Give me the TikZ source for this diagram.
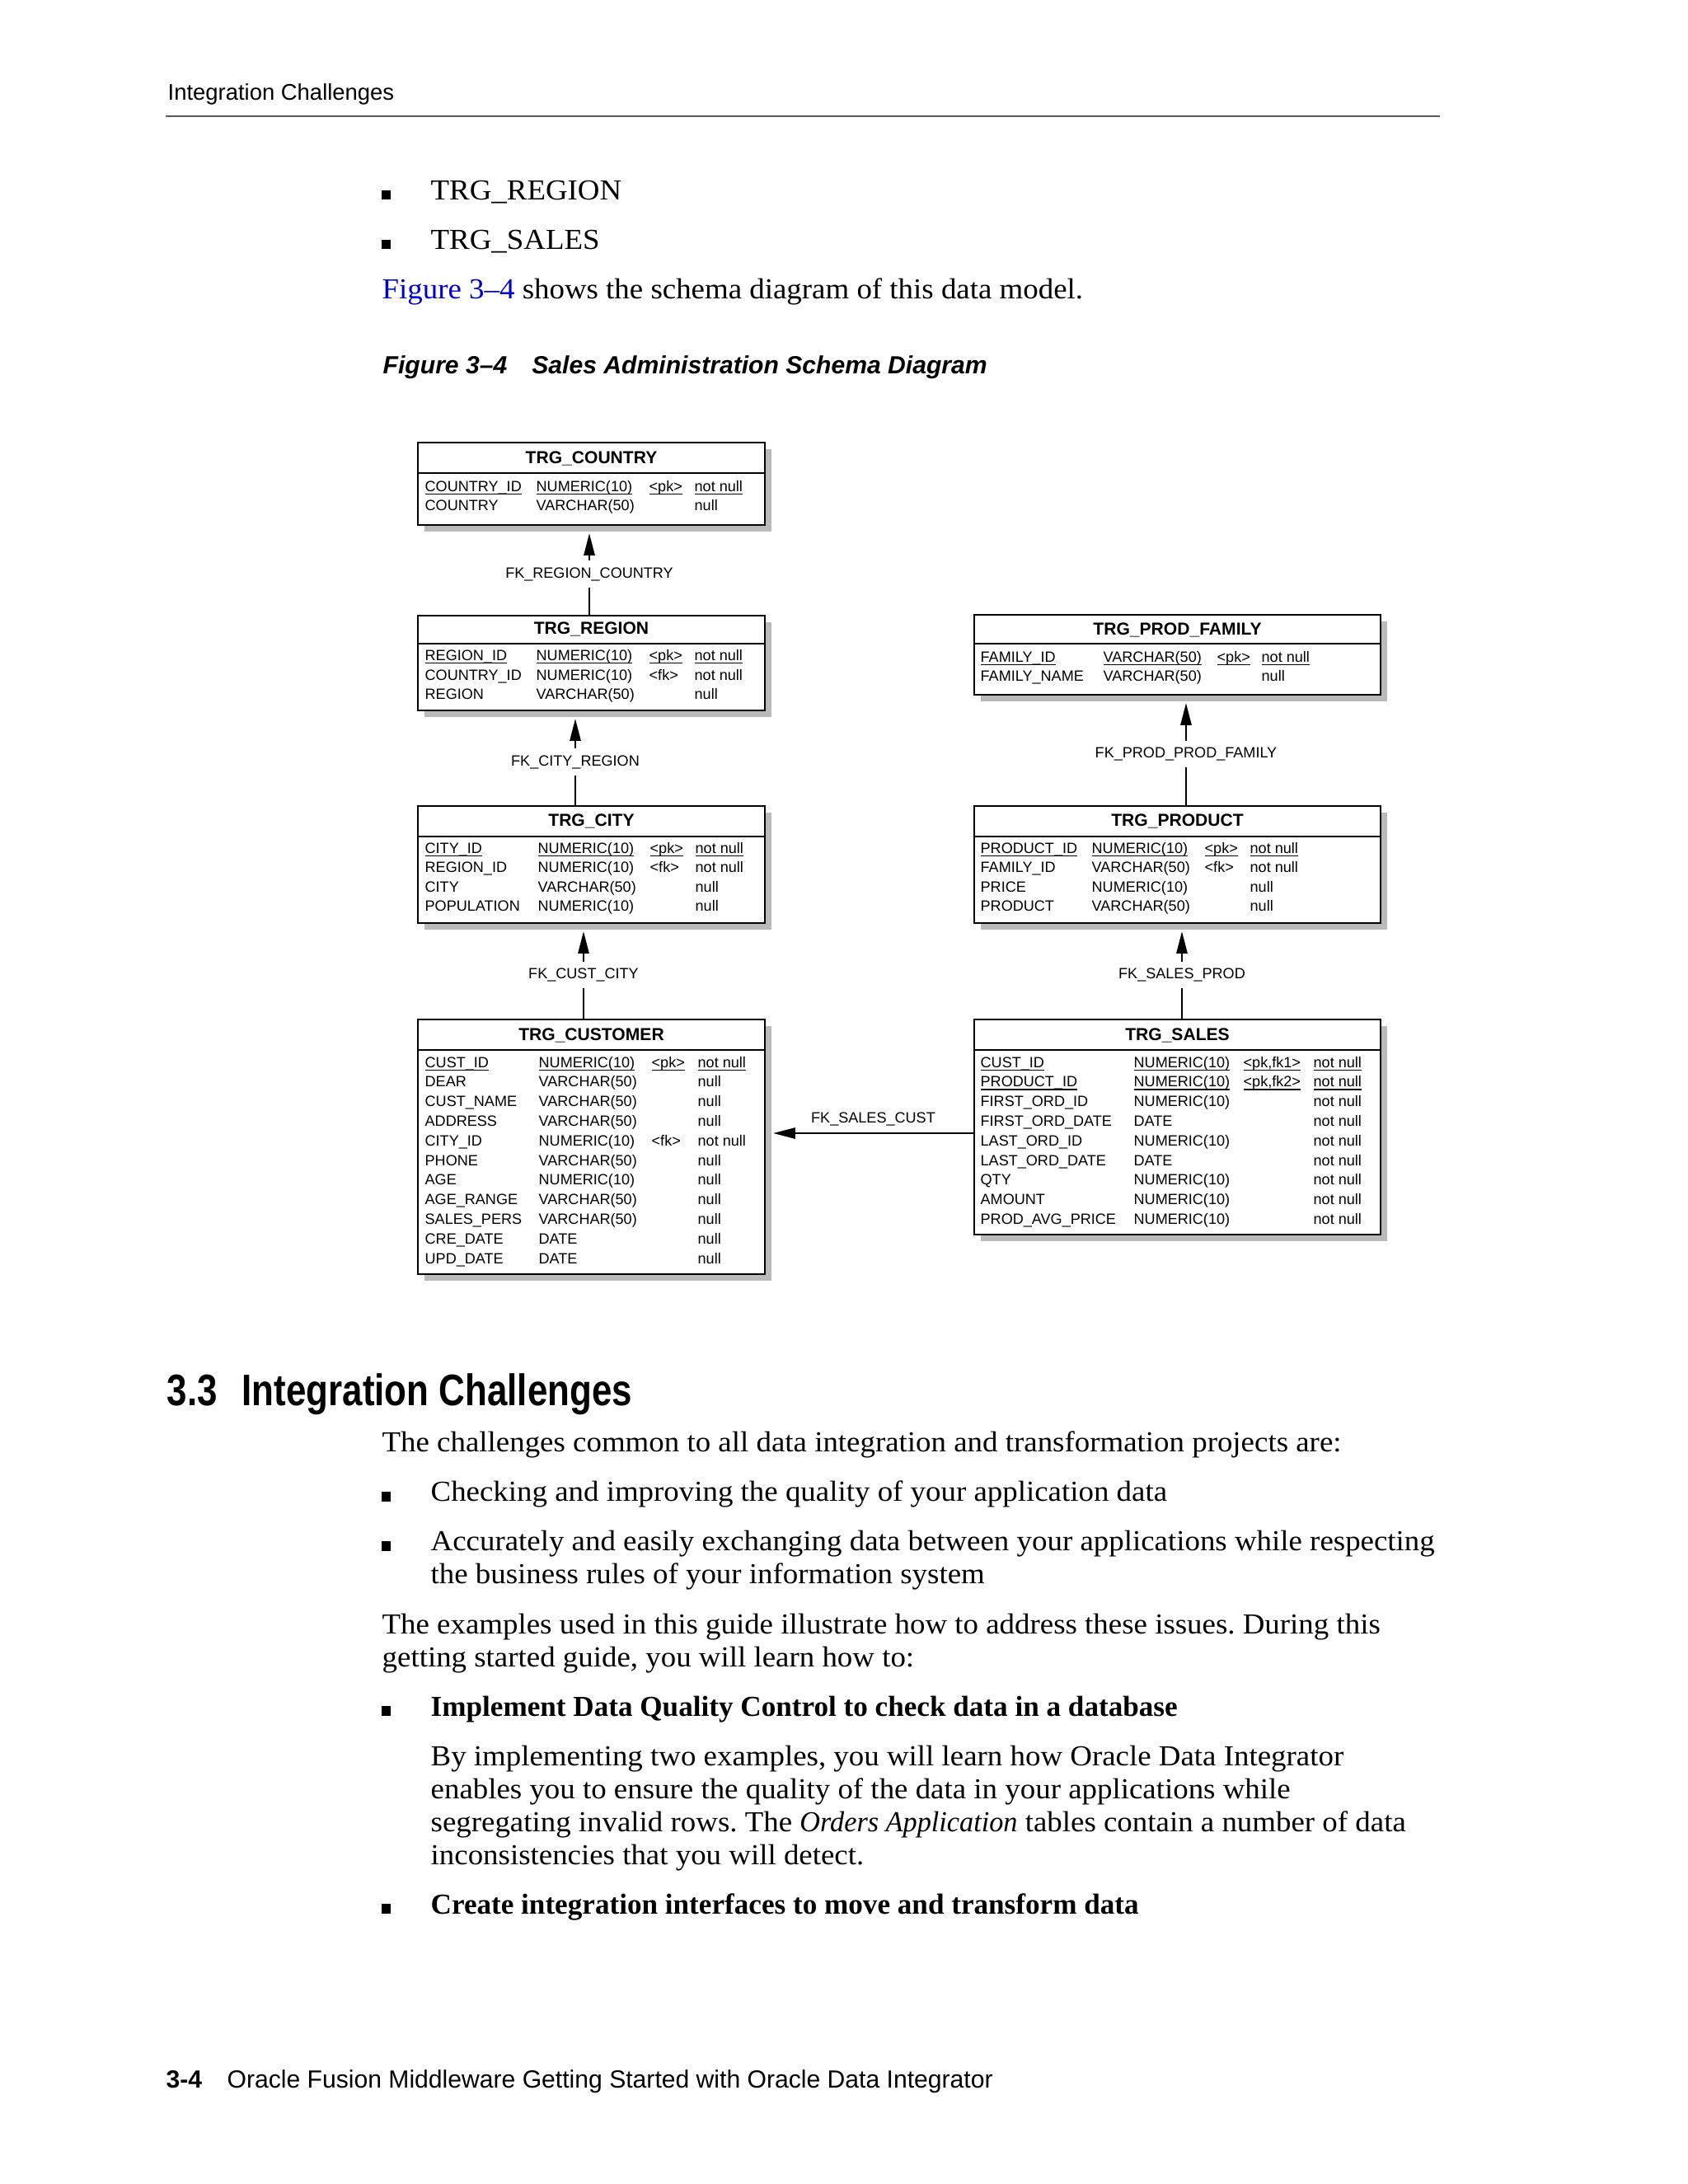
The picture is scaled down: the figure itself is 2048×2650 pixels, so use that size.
\documentclass[tikz,border=0pt]{standalone}
\usepackage{fontspec}
\setmainfont{Liberation Serif}[FakeStretch=1.05]
\newfontfamily\boldserif{Liberation Serif}[FakeStretch=1.0]
\newfontfamily\itserif{Liberation Serif}[FakeStretch=0.975]
\newfontfamily\headfont{Liberation Sans}
\newfontfamily\secfont{Liberation Sans}[FakeStretch=0.82]
\newfontfamily\tblfont{Liberation Sans}
\usetikzlibrary{arrows.meta, calc, fit, shadows}
\definecolor{linkblue}{RGB}{0,0,204}
\definecolor{shadowgray}{RGB}{186,186,186}
\newsavebox\pkbox
\newcommand\pkey[1]{\sbox\pkbox{#1}\rlap{\rule[-1.1pt]{\wd\pkbox}{0.35pt}}\usebox\pkbox}
\frenchspacing
\tikzset{
  tbl/.style={draw, line width=0.7pt, fill=white, inner sep=0pt,
    drop shadow={shadow xshift=2.4pt, shadow yshift=-2.4pt, fill=shadowgray, opacity=1}},
  tblhead/.style={draw, line width=0.7pt, inner sep=0pt},
  tbltitle/.style={anchor=base, inner sep=0pt, font=\tblfont\bfseries\fontsize{6.3}{7}\selectfont},
  cell/.style={anchor=base west, inner sep=0pt, font=\tblfont\fontsize{5.4}{6}\selectfont},
  fk/.style={line width=0.5pt, -{Triangle[length=8pt, width=4pt]}},
  fklabel/.style={fill=white, inner xsep=1pt, inner ysep=2.5pt, font=\tblfont\fontsize{5.4}{6}\selectfont},
  body/.style={anchor=base west, inner sep=0pt, font=\fontsize{10.5}{12}\selectfont},
  bul/.style={fill=black, inner sep=0pt, minimum size=3.5pt, anchor=south west},
  sans/.style={anchor=base west, inner sep=0pt, font=\headfont\fontsize{9}{10}\selectfont}
}
\begin{document}
\begin{tikzpicture}[x=0.29883pt, y=-0.29883pt]
\fill[white] (0,0) rectangle (2048,2650);
\useasboundingbox (0,0) rectangle (2048,2650);

\node[sans, font=\headfont\fontsize{8.2}{10}\selectfont] (hdr) at (203,121) {Integration Challenges};
\draw[black!65, line width=0.6pt] (201,141) -- (1747,141);

\node[bul] (b1) at (462,243) {};
\node[body] (b1t) at (522,242.5) {TRG\_REGION};
\node[bul] (b2) at (462,303) {};
\node[body] (b2t) at (522,302.5) {TRG\_SALES};
\node[body] (p1) at (463,362.5) {\textcolor{linkblue}{Figure 3\textendash 4} shows the schema diagram of this data model.};
\node[sans, font=\headfont\bfseries\itshape\fontsize{9}{10}\selectfont] (cap) at (464,453) {Figure 3\textendash 4\hspace{1em}Sales Administration Schema Diagram};

\node[tbl, fit={(507,537) (928,637)}] (country) {};
\node[tblhead, fit={(507,537) (928,574)}] (country-h) {};
\node[tbltitle] (country-t) at ($(country-h.south)+(0,-12.5)$) {TRG\_COUNTRY};
\foreach \nm/\tp/\ky/\nl [count=\i] in {{\pkey{COUNTRY\_ID}}/{\pkey{NUMERIC(10)}}/{\pkey{<pk>}}/{\pkey{not null}}, COUNTRY/VARCHAR(50)//null}{
  \node[cell] (country-a\i) at (515,{572.4+23.6*\i}) {\nm};
  \node[cell] (country-b\i) at (650,{572.4+23.6*\i}) {\tp};
  \node[cell] (country-c\i) at (787,{572.4+23.6*\i}) {\ky};
  \node[cell] (country-d\i) at (842,{572.4+23.6*\i}) {\nl};
}

\node[tbl, fit={(507,747) (928,862)}] (region) {};
\node[tblhead, fit={(507,747) (928,781)}] (region-h) {};
\node[tbltitle] (region-t) at ($(region-h.south)+(0,-12.5)$) {TRG\_REGION};
\foreach \nm/\tp/\ky/\nl [count=\i] in {{\pkey{REGION\_ID}}/{\pkey{NUMERIC(10)}}/{\pkey{<pk>}}/{\pkey{not null}}, COUNTRY\_ID/NUMERIC(10)/<fk>/not null, REGION/VARCHAR(50)//null}{
  \node[cell] (region-a\i) at (515,{778.1+23.6*\i}) {\nm};
  \node[cell] (region-b\i) at (650,{778.1+23.6*\i}) {\tp};
  \node[cell] (region-c\i) at (787,{778.1+23.6*\i}) {\ky};
  \node[cell] (region-d\i) at (842,{778.1+23.6*\i}) {\nl};
}

\node[tbl, fit={(507,978) (928,1120)}] (city) {};
\node[tblhead, fit={(507,978) (928,1015)}] (city-h) {};
\node[tbltitle] (city-t) at ($(city-h.south)+(0,-13.5)$) {TRG\_CITY};
\foreach \nm/\tp/\ky/\nl [count=\i] in {{\pkey{CITY\_ID}}/{\pkey{NUMERIC(10)}}/{\pkey{<pk>}}/{\pkey{not null}}, REGION\_ID/NUMERIC(10)/<fk>/not null, CITY/VARCHAR(50)//null, POPULATION/NUMERIC(10)//null}{
  \node[cell] (city-a\i) at (515,{1011.4+23.6*\i}) {\nm};
  \node[cell] (city-b\i) at (652,{1011.4+23.6*\i}) {\tp};
  \node[cell] (city-c\i) at (788,{1011.4+23.6*\i}) {\ky};
  \node[cell] (city-d\i) at (843,{1011.4+23.6*\i}) {\nl};
}

\node[tbl, fit={(507,1237) (928,1546)}] (customer) {};
\node[tblhead, fit={(507,1237) (928,1274)}] (customer-h) {};
\node[tbltitle] (customer-t) at ($(customer-h.south)+(0,-12.5)$) {TRG\_CUSTOMER};
\foreach \nm/\tp/\ky/\nl [count=\i] in {{\pkey{CUST\_ID}}/{\pkey{NUMERIC(10)}}/{\pkey{<pk>}}/{\pkey{not null}}, DEAR/VARCHAR(50)//null, CUST\_NAME/VARCHAR(50)//null, ADDRESS/VARCHAR(50)//null, CITY\_ID/NUMERIC(10)/<fk>/not null, PHONE/VARCHAR(50)//null, AGE/NUMERIC(10)//null, AGE\_RANGE/VARCHAR(50)//null, SALES\_PERS/VARCHAR(50)//null, CRE\_DATE/DATE//null, UPD\_DATE/DATE//null}{
  \node[cell] (customer-a\i) at (515,{1271.2+23.8*\i}) {\nm};
  \node[cell] (customer-b\i) at (653,{1271.2+23.8*\i}) {\tp};
  \node[cell] (customer-c\i) at (790,{1271.2+23.8*\i}) {\ky};
  \node[cell] (customer-d\i) at (846,{1271.2+23.8*\i}) {\nl};
}

\node[tbl, fit={(1182,746) (1675,843)}] (family) {};
\node[tblhead, fit={(1182,746) (1675,781)}] (family-h) {};
\node[tbltitle] (family-t) at ($(family-h.south)+(0,-12)$) {TRG\_PROD\_FAMILY};
\foreach \nm/\tp/\ky/\nl [count=\i] in {{\pkey{FAMILY\_ID}}/{\pkey{VARCHAR(50)}}/{\pkey{<pk>}}/{\pkey{not null}}, FAMILY\_NAME/VARCHAR(50)//null}{
  \node[cell] (family-a\i) at (1189,{779.4+23.6*\i}) {\nm};
  \node[cell] (family-b\i) at (1338,{779.4+23.6*\i}) {\tp};
  \node[cell] (family-c\i) at (1476,{779.4+23.6*\i}) {\ky};
  \node[cell] (family-d\i) at (1530,{779.4+23.6*\i}) {\nl};
}

\node[tbl, fit={(1182,978) (1675,1120)}] (product) {};
\node[tblhead, fit={(1182,978) (1675,1015)}] (product-h) {};
\node[tbltitle] (product-t) at ($(product-h.south)+(0,-13.5)$) {TRG\_PRODUCT};
\foreach \nm/\tp/\ky/\nl [count=\i] in {{\pkey{PRODUCT\_ID}}/{\pkey{NUMERIC(10)}}/{\pkey{<pk>}}/{\pkey{not null}}, FAMILY\_ID/VARCHAR(50)/<fk>/not null, PRICE/NUMERIC(10)//null, PRODUCT/VARCHAR(50)//null}{
  \node[cell] (product-a\i) at (1189,{1011.4+23.6*\i}) {\nm};
  \node[cell] (product-b\i) at (1324,{1011.4+23.6*\i}) {\tp};
  \node[cell] (product-c\i) at (1461,{1011.4+23.6*\i}) {\ky};
  \node[cell] (product-d\i) at (1516,{1011.4+23.6*\i}) {\nl};
}

\node[tbl, fit={(1182,1237) (1675,1498)}] (sales) {};
\node[tblhead, fit={(1182,1237) (1675,1274)}] (sales-h) {};
\node[tbltitle] (sales-t) at ($(sales-h.south)+(0,-12.5)$) {TRG\_SALES};
\foreach \nm/\tp/\ky/\nl [count=\i] in {{\pkey{CUST\_ID}}/{\pkey{NUMERIC(10)}}/{\pkey{<pk,fk1>}}/{\pkey{not null}}, {\pkey{PRODUCT\_ID}}/{\pkey{NUMERIC(10)}}/{\pkey{<pk,fk2>}}/{\pkey{not null}}, FIRST\_ORD\_ID/NUMERIC(10)//not null, FIRST\_ORD\_DATE/DATE//not null, LAST\_ORD\_ID/NUMERIC(10)//not null, LAST\_ORD\_DATE/DATE//not null, QTY/NUMERIC(10)//not null, AMOUNT/NUMERIC(10)//not null, PROD\_AVG\_PRICE/NUMERIC(10)//not null}{
  \node[cell] (sales-a\i) at (1189,{1271.2+23.8*\i}) {\nm};
  \node[cell] (sales-b\i) at (1375,{1271.2+23.8*\i}) {\tp};
  \node[cell] (sales-c\i) at (1508,{1271.2+23.8*\i}) {\ky};
  \node[cell] (sales-d\i) at (1593,{1271.2+23.8*\i}) {\nl};
}

\draw[fk] ($(region.north)+(-2.5,0)$) -- node[fklabel] (fk1) {FK\_REGION\_COUNTRY} ($(country.south)+(-2.5,9)$);
\draw[fk] ($(city.north)+(-19.5,0)$) -- node[fklabel] (fk2) {FK\_CITY\_REGION} ($(region.south)+(-19.5,9)$);
\draw[fk] ($(customer.north)+(-9.5,0)$) -- node[fklabel] (fk3) {FK\_CUST\_CITY} ($(city.south)+(-9.5,9)$);
\draw[fk] ($(product.north)+(10.5,0)$) -- node[fklabel] (fk4) {FK\_PROD\_PROD\_FAMILY} ($(family.south)+(10.5,9)$);
\draw[fk] ($(sales.north)+(5.5,0)$) -- node[fklabel] (fk5) {FK\_SALES\_PROD} ($(product.south)+(5.5,9)$);
\draw[fk] ($(sales.west)+(0,7.5)$) -- node[fklabel, fill=none, above=1.5pt, inner ysep=1pt] (fk6) {FK\_SALES\_CUST} ($(customer.east |- sales.west)+(9,7.5)$);

\node[sans, font=\secfont\bfseries\fontsize{16}{18}\selectfont] (sec) at (202,1705) {3.3\hspace{9pt}Integration Challenges};
\node[body] (p2) at (463,1761.7) {The challenges common to all data integration and transformation projects are:};
\node[bul] (b3) at (462,1822.2) {};
\node[body] (b3t) at (522,1821.7) {Checking and improving the quality of your application data};
\node[bul] (b4) at (462,1882.2) {};
\node[body] (b4t) at (522,1881.7) {Accurately and easily exchanging data between your applications while respecting};
\node[body] (b4u) at (522,1921.7) {the business rules of your information system};
\node[body] (p3a) at (463,1982) {The examples used in this guide illustrate how to address these issues. During this};
\node[body] (p3b) at (463,2022) {getting started guide, you will learn how to:};
\node[bul] (b5) at (462,2082.5) {};
\node[body, font=\boldserif\bfseries\fontsize{10.5}{12}\selectfont] (b5t) at (522,2082) {Implement Data Quality Control to check data in a database};
\node[body] (p4a) at (522,2142) {By implementing two examples, you will learn how Oracle Data Integrator};
\node[body] (p4b) at (522,2182) {enables you to ensure the quality of the data in your applications while};
\node[body] (p4c) at (522,2222) {segregating invalid rows. The {\itserif\itshape Orders Application} tables contain a number of data};
\node[body] (p4d) at (522,2262) {inconsistencies that you will detect.};
\node[bul] (b6) at (462,2322.5) {};
\node[body, font=\boldserif\bfseries\fontsize{10.5}{12}\selectfont] (b6t) at (522,2322) {Create integration interfaces to move and transform data};

\node[sans, font=\headfont\bfseries\fontsize{9}{10}\selectfont] (pg) at (201,2533) {3-4};
\node[sans] (ftr) at (275,2533) {Oracle Fusion Middleware Getting Started with Oracle Data Integrator};
\end{tikzpicture}
\end{document}
